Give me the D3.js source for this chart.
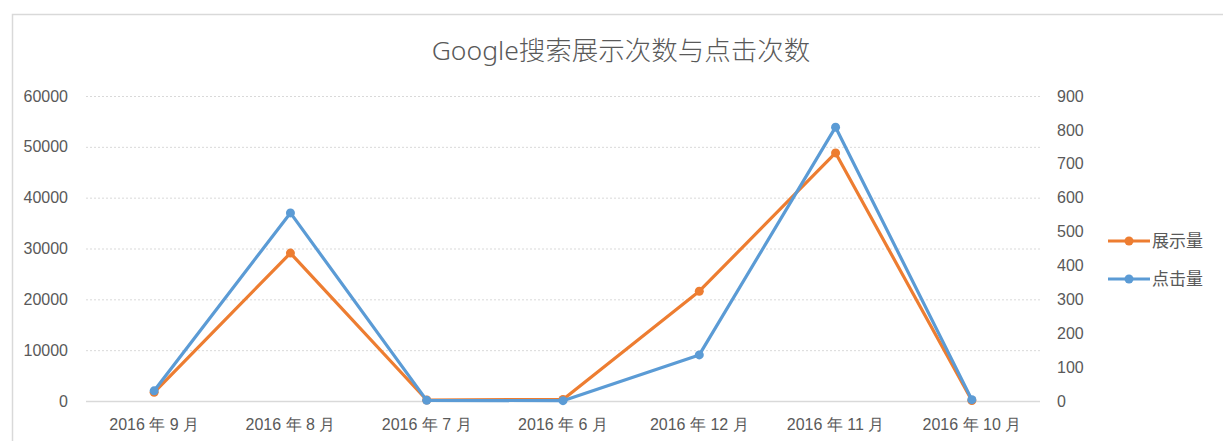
<html lang="zh">
<head>
<meta charset="UTF-8">
<title>Google搜索展示次数与点击次数</title>
<style>
  body { margin: 0; background: #fff; font-family: "Noto Sans", "Noto Sans CJK SC", sans-serif; }
  .axis text { fill: #595959; font-size: 16px; }
  .grid line { stroke: #d9d9d9; stroke-dasharray: 2 2; }
</style>
<script src="https://d3js.org/d3.v7.min.js"></script>
</head>
<body>
<div id="chart"></div>
<script>
const months = ['2016 年 9 月', '2016 年 8 月', '2016 年 7 月', '2016 年 6 月', '2016 年 12 月', '2016 年 11 月', '2016 年 10 月'];
const impressions = [1700, 29100, 200, 300, 21600, 48800, 100];
const clicks = [30, 555, 2, 1, 136, 808, 4];
const leftTicks = [0, 10000, 20000, 30000, 40000, 50000, 60000];
const rightTicks = [0, 100, 200, 300, 400, 500, 600, 700, 800, 900];

const W = 1223, H = 441;
const margin = { top: 96, left: 86, right: 183, bottom: 40 };
const pw = W - margin.left - margin.right, ph = 401 - margin.top;

const svg = d3.select('#chart').append('svg').attr('width', W).attr('height', H);

// chart frame
svg.append('rect').attr('x', 12.5).attr('y', 14.5).attr('width', 1240).attr('height', 460)
  .attr('fill', 'none').attr('stroke', '#d9d9d9').attr('stroke-width', 1.5);

svg.append('text').attr('x', 621).attr('y', 60).attr('text-anchor', 'middle')
  .attr('fill', '#595959').style('font-size', '26.5px').style('font-weight', 300)
  .text('Google搜索展示次数与点击次数');

const g = svg.append('g').attr('transform', `translate(${margin.left},${margin.top})`);

const x = d3.scaleBand().domain(months).range([0, pw]);
const yL = d3.scaleLinear().domain([0, 60000]).range([ph, 0]);
const yR = d3.scaleLinear().domain([0, 900]).range([ph, 0]);

// gridlines
g.append('g').attr('class', 'grid')
  .selectAll('line').data(leftTicks.slice(1)).join('line')
  .attr('x1', 0).attr('x2', pw).attr('y1', d => yL(d) + 0.5).attr('y2', d => yL(d) + 0.5);

g.append('line').attr('x1', 0).attr('x2', pw).attr('y1', ph + 0.5).attr('y2', ph + 0.5)
  .attr('stroke', '#d9d9d9').attr('stroke-width', 1.5);

// axes
const axL = g.append('g').attr('class', 'axis')
  .call(d3.axisLeft(yL).tickValues(leftTicks).tickFormat(d3.format('d')).tickSize(0).tickPadding(18));
const axR = g.append('g').attr('class', 'axis').attr('transform', `translate(${pw},0)`)
  .call(d3.axisRight(yR).tickValues(rightTicks).tickFormat(d3.format('d')).tickSize(0).tickPadding(17));
const axX = g.append('g').attr('class', 'axis').attr('transform', `translate(0,${ph})`)
  .call(d3.axisBottom(x).tickSize(0).tickPadding(18));
[axL, axR, axX].forEach(a => a.select('.domain').remove());

const series = [
  { name: '展示量', values: impressions, y: yL, color: '#ED7D31' },
  { name: '点击量', values: clicks, y: yR, color: '#5B9BD5' }
];

series.forEach(s => {
  const line = d3.line().x((d, i) => x(months[i]) + x.bandwidth() / 2).y(d => s.y(d));
  g.append('path').datum(s.values).attr('d', line)
    .attr('fill', 'none').attr('stroke', s.color).attr('stroke-width', 3.2)
    .attr('stroke-linejoin', 'round');
  g.selectAll(null).data(s.values).join('circle')
    .attr('cx', (d, i) => x(months[i]) + x.bandwidth() / 2).attr('cy', d => s.y(d))
    .attr('r', 4.5).attr('fill', s.color);
});

// legend
const lg = svg.append('g').attr('transform', 'translate(1108,241)');
series.forEach((s, i) => {
  const row = lg.append('g').attr('transform', `translate(0,${i * 38})`);
  row.append('line').attr('x1', 0).attr('x2', 42).attr('stroke', s.color).attr('stroke-width', 3.2);
  row.append('circle').attr('cx', 21).attr('r', 4.5).attr('fill', s.color);
  row.append('text').attr('x', 44).attr('dy', '0.35em').attr('fill', '#595959')
    .style('font-size', '17px').text(s.name);
});
</script>
</body>
</html>
